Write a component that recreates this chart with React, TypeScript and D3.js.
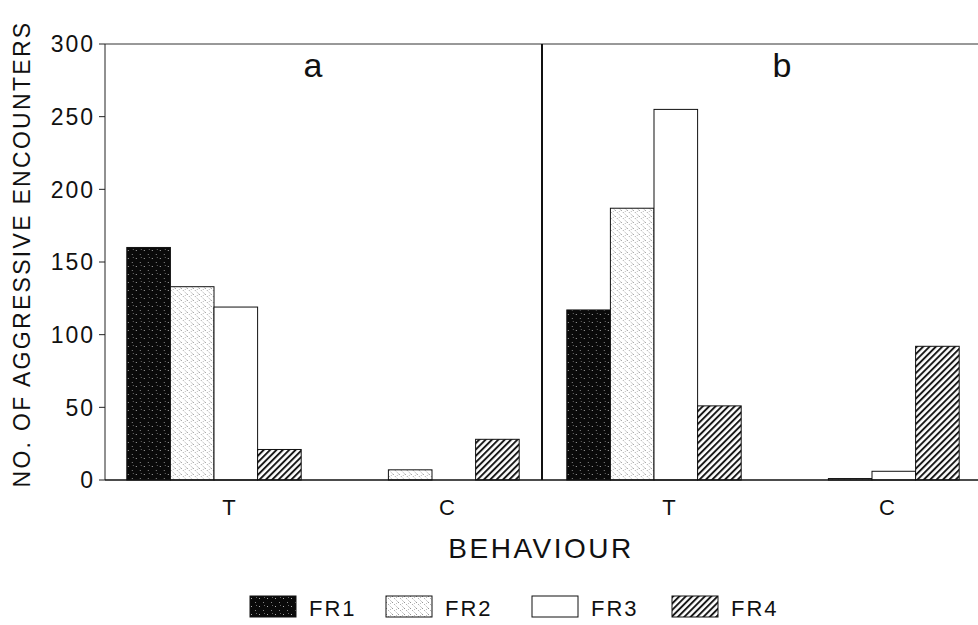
import React from "react";
import * as d3 from "d3";

const behaviours = ["T", "C"];
const seriesNames = ["FR1", "FR2", "FR3", "FR4"];
const panels = ["a", "b"];
// values per panel and behaviour, order FR1..FR4
const panelAT = [160, 133, 119, 21];
const panelAC = [0, 7, 0, 28];
const panelBT = [117, 187, 255, 51];
const panelBC = [0, 1, 6, 92];
const yTicks = [0, 50, 100, 150, 200, 250, 300];

const panelData: Record<string, Record<string, number[]>> = {
  a: { T: panelAT, C: panelAC },
  b: { T: panelBT, C: panelBC },
};

const W = 978;
const H = 625;
const FONT = "'Liberation Sans', Arial, Helvetica, sans-serif";

const fills: Record<string, string> = {
  FR1: "url(#pFR1)",
  FR2: "url(#pFR2)",
  FR3: "#ffffff",
  FR4: "url(#pFR4)",
};

export default function App() {
  const y = d3.scaleLinear().domain([0, 300]).range([480, 44]);
  const panelRanges: Record<string, [number, number]> = {
    a: [105, 541],
    b: [545, 981],
  };
  const panelLabelX: Record<string, number> = { a: 313, b: 782 };
  const legendX = [250, 386, 532, 672];

  return (
    <svg width={W} height={H} style={{ position: "absolute", left: 0, top: 0, background: "#fff" }}>
      <defs>
        <pattern id="pFR1" width="8" height="8" patternUnits="userSpaceOnUse">
          <rect width="8" height="8" fill="#0a0a0a" />
          <rect x="1" y="2" width="1" height="1" fill="#aaa" />
          <rect x="5" y="6" width="1" height="1" fill="#888" />
          <rect x="6" y="1" width="1" height="1" fill="#666" />
        </pattern>
        <pattern id="pFR2" width="6" height="6" patternUnits="userSpaceOnUse">
          <rect width="6" height="6" fill="#fff" />
          <line x1="0" y1="0" x2="6" y2="6" stroke="#666" strokeWidth="0.7" strokeDasharray="1.4 1.8" />
          <rect x="4" y="1" width="0.8" height="0.8" fill="#999" />
        </pattern>
        <pattern id="pFR4" width="4.5" height="4.5" patternUnits="userSpaceOnUse" patternTransform="rotate(45)">
          <rect width="4.5" height="4.5" fill="#fff" />
          <line x1="1" y1="0" x2="1" y2="4.5" stroke="#111" strokeWidth="1.9" />
        </pattern>
      </defs>

      <line x1={105} x2={W} y1={y(300)} y2={y(300)} stroke="#333" strokeWidth={1} />
      <line x1={105} x2={105} y1={y(300)} y2={y(0)} stroke="#222" strokeWidth={1} />
      {yTicks.map((t) => (
        <g key={t}>
          <line x1={99} x2={105} y1={y(t)} y2={y(t)} stroke="#222" strokeWidth={1} />
          <text
            x={95}
            y={y(t)}
            dy="0.36em"
            textAnchor="end"
            fontFamily={FONT}
            fontSize={23}
            letterSpacing={2}
            fill="#111"
          >
            {t}
          </text>
        </g>
      ))}
      <line x1={542} x2={542} y1={y(300)} y2={y(0)} stroke="#111" strokeWidth={2} />

      {panels.map((p) => {
        const x0 = d3
          .scaleBand<string>()
          .domain(behaviours)
          .range(panelRanges[p])
          .paddingInner(0.2)
          .paddingOuter(0.1);
        const x1 = d3.scaleBand<string>().domain(seriesNames).range([0, x0.bandwidth()]);
        return (
          <g key={p}>
            {behaviours.map((b) => (
              <g key={b} transform={`translate(${x0(b)},0)`}>
                {seriesNames.map((s, i) => {
                  const v = panelData[p][b][i];
                  if (v <= 0) return null;
                  return (
                    <rect
                      key={s}
                      x={x1(s)}
                      y={y(v)}
                      width={x1.bandwidth()}
                      height={y(0) - y(v)}
                      fill={fills[s]}
                      stroke="#111"
                      strokeWidth={1}
                    />
                  );
                })}
                <text
                  x={x0.bandwidth() / 2 + 15}
                  y={515}
                  textAnchor="middle"
                  fontFamily={FONT}
                  fontSize={22}
                  fill="#111"
                >
                  {b}
                </text>
              </g>
            ))}
            <text
              x={panelLabelX[p]}
              y={77}
              textAnchor="middle"
              fontFamily={FONT}
              fontSize={34}
              fill="#111"
            >
              {p}
            </text>
          </g>
        );
      })}

      <line x1={105} x2={W} y1={y(0)} y2={y(0)} stroke="#111" strokeWidth={1.5} />

      <text
        transform={`translate(30,254) rotate(-90)`}
        textAnchor="middle"
        fontFamily={FONT}
        fontSize={23}
        letterSpacing={2.3}
        fill="#111"
      >
        NO. OF AGGRESSIVE ENCOUNTERS
      </text>

      <text
        x={541}
        y={558}
        textAnchor="middle"
        fontFamily={FONT}
        fontSize={28}
        letterSpacing={2.5}
        fill="#111"
      >
        BEHAVIOUR
      </text>

      {seriesNames.map((s, i) => (
        <g key={s} transform={`translate(${legendX[i]},596)`}>
          <rect width={46} height={21} fill={fills[s]} stroke="#111" strokeWidth={1} />
          <text x={59} y={20} fontFamily={FONT} fontSize={22} letterSpacing={2} fill="#111">
            {s}
          </text>
        </g>
      ))}
    </svg>
  );
}
